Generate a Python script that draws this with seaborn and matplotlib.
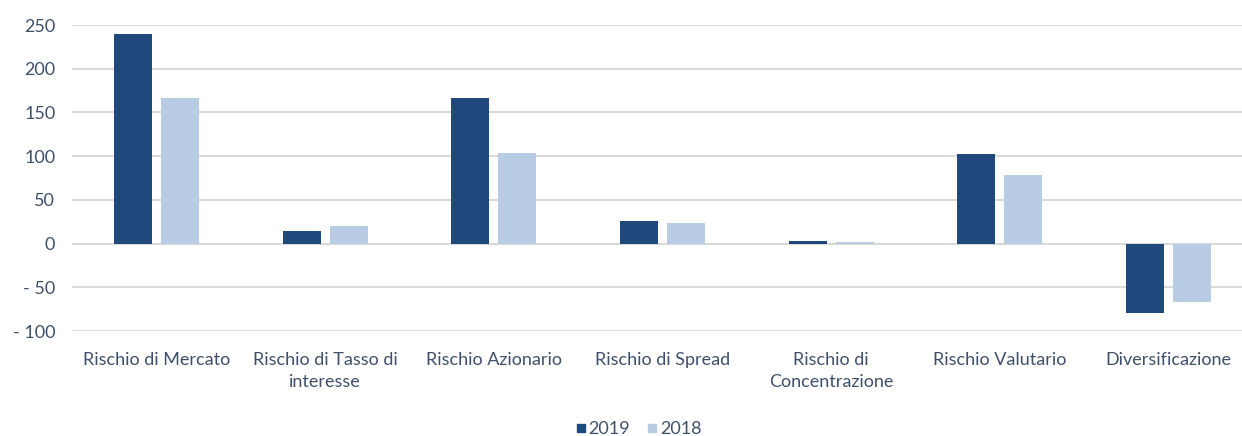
import matplotlib
matplotlib.use("Agg")
import matplotlib.pyplot as plt
from matplotlib.lines import Line2D
import seaborn as sns
import pandas as pd

categories = [
    "Rischio di Mercato",
    "Rischio di Tasso di\ninteresse",
    "Rischio Azionario",
    "Rischio di Spread",
    "Rischio di\nConcentrazione",
    "Rischio Valutario",
    "Diversificazione",
]
values_2019 = [240, 14, 167, 26, 3, 103, -79]
values_2018 = [167, 20, 104, 24, 2, 79, -67]
years = ["2019", "2018"]
yticks = [-100, -50, 0, 50, 100, 150, 200, 250]
colors = ["#1F497D", "#B8CCE4"]
text_color = "#3F506A"

df = pd.DataFrame({
    "Categoria": categories * 2,
    "Anno": [years[0]] * len(categories) + [years[1]] * len(categories),
    "Valore": values_2019 + values_2018,
})

sns.set_theme(style="white")
plt.rcParams["font.family"] = ["Lato", "DejaVu Sans"]

fig = plt.figure(figsize=(12.42, 4.36), dpi=100)
ax = fig.add_axes([72 / 1242, 105 / 436, 1181 / 1242, 306 / 436])

sns.barplot(
    data=df, x="Categoria", y="Valore", hue="Anno",
    palette=colors, width=0.557, gap=0.19, ax=ax,
    legend=False, saturation=1, edgecolor="none",
)

ax.set_ylim(-100, 250)
ax.set_yticks(yticks)
ax.set_yticklabels([("- " + str(abs(v))) if v < 0 else str(v) for v in yticks])
ax.set_xlim(-0.5, len(categories) - 0.5)
ax.yaxis.grid(True, color="#D9D9D9", linewidth=1.5)
ax.set_axisbelow(True)
for s in ax.spines.values():
    s.set_visible(False)
ax.set_xlabel("")
ax.set_ylabel("")
ax.tick_params(axis="y", length=0, pad=12, labelsize=13, labelcolor=text_color)
ax.tick_params(axis="x", length=0, pad=15, labelsize=13, labelcolor=text_color)
for lbl in ax.get_xticklabels():
    lbl.set_linespacing(1.45)

handles = [
    Line2D([0], [0], marker="s", linestyle="none", markersize=6,
           markerfacecolor=c, markeredgecolor=c)
    for c in colors
]
fig.legend(handles, years, loc="lower center", bbox_to_anchor=(0.514, -0.04),
           ncol=2, frameon=False, handlelength=0.6, handletextpad=0.15,
           columnspacing=0.9, fontsize=13, labelcolor=text_color)

fig.savefig("out.png", dpi=100, facecolor="white")
